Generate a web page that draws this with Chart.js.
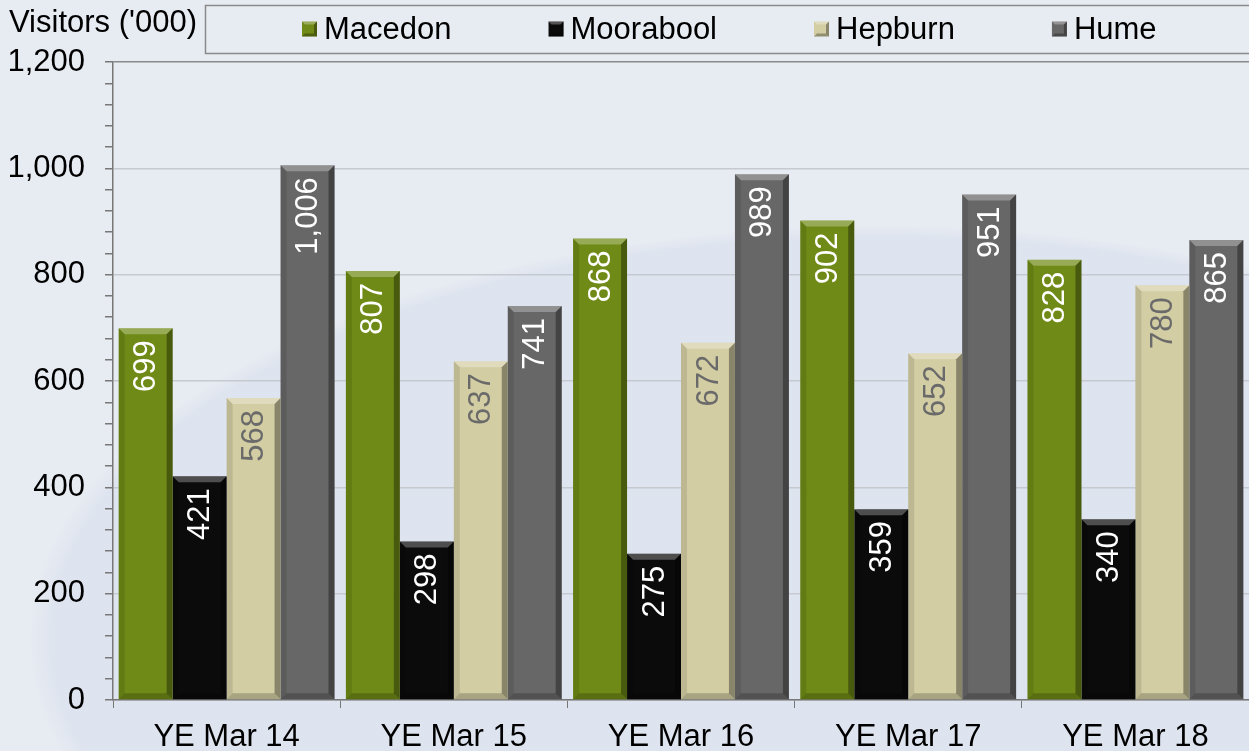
<!DOCTYPE html>
<html>
<head>
<meta charset="utf-8">
<script src="https://cdn.jsdelivr.net/npm/chart.js@4.4.1/dist/chart.umd.min.js"></script>
<style>
  html, body { margin: 0; padding: 0; }
  body {
    width: 1249px; height: 751px; overflow: hidden;
    background:
      radial-gradient(ellipse 1150px 560px at 880px 640px, rgba(222,228,239,0.95) 0%, rgba(222,228,239,0.95) 72%, rgba(236,240,246,0) 74%),
      #e7ebf2;
  }
  #wrap { position: relative; width: 1249px; height: 751px; }
</style>
</head>
<body>
<div id="wrap"><canvas id="chart"></canvas></div>
<script>
// data
const categories = ["YE Mar 14", "YE Mar 15", "YE Mar 16", "YE Mar 17", "YE Mar 18"];
const macedon = [699, 807, 868, 902, 828];
const moorabool = [421, 298, 275, 359, 340];
const hepburn = [568, 637, 672, 652, 780];
const hume = [1006, 741, 989, 951, 865];
const yTicks = [0, 200, 400, 600, 800, 1000, 1200];

const FONT = "'Liberation Sans', Arial, sans-serif";
const labelColors = ["#ffffff", "#ffffff", "#6a6a6a", "#ffffff"];

function poly(ctx, pts, fill) {
  ctx.beginPath();
  ctx.moveTo(pts[0][0], pts[0][1]);
  pts.slice(1).forEach((q) => ctx.lineTo(q[0], q[1]));
  ctx.closePath();
  ctx.fillStyle = fill;
  ctx.fill();
}

// bevelled look on every bar
const bevelPlugin = {
  id: "bevel",
  afterDatasetsDraw(chart) {
    const ctx = chart.ctx;
    chart.data.datasets.forEach((ds, i) => {
      chart.getDatasetMeta(i).data.forEach((bar) => {
        const p = bar.getProps(["x", "y", "base", "width"], true);
        const l = p.x - p.width / 2, r = p.x + p.width / 2;
        const t = Math.min(p.y, p.base), b = Math.max(p.y, p.base);
        const s = 6;
        ctx.save();
        poly(ctx, [[l, t], [r, t], [r - s, t + s], [l + s, t + s]], "rgba(255,255,255,0.28)");
        poly(ctx, [[l, t], [l + s, t + s], [l + s, b - s], [l, b]], "rgba(0,0,0,0.1)");
        poly(ctx, [[r, t], [r, b], [r - s, b - s], [r - s, t + s]], "rgba(0,0,0,0.35)");
        poly(ctx, [[l, b], [l + s, b - s], [r - s, b - s], [r, b]], "rgba(0,0,0,0.2)");
        ctx.restore();
      });
    });
  },
};

// rotated value labels near the top of each bar
const valueLabels = {
  id: "valueLabels",
  afterDatasetsDraw(chart) {
    const ctx = chart.ctx;
    chart.data.datasets.forEach((ds, i) => {
      chart.getDatasetMeta(i).data.forEach((bar, j) => {
        const p = bar.getProps(["x", "y"], true);
        ctx.save();
        ctx.translate(p.x, p.y + 12);
        ctx.rotate(-Math.PI / 2);
        ctx.font = "31px " + FONT;
        ctx.fillStyle = labelColors[i];
        ctx.textAlign = "right";
        ctx.textBaseline = "middle";
        ctx.fillText(ds.data[j].toLocaleString("en-US"), 0, 1);
        ctx.restore();
      });
    });
  },
};

// axis title and boxed legend at the top
const topBits = {
  id: "topBits",
  afterDraw(chart) {
    const ctx = chart.ctx;
    ctx.save();
    ctx.font = "31px " + FONT;
    ctx.fillStyle = "#000";
    ctx.textBaseline = "middle";
    ctx.textAlign = "left";
    ctx.fillText("Visitors ('000)", 9, 23);

    const boxLeft = 205, boxTop = 5, boxBottom = 53;
    ctx.fillStyle = "rgba(232,236,244,0.6)";
    ctx.fillRect(boxLeft, boxTop, chart.width - boxLeft + 5, boxBottom - boxTop);
    ctx.strokeStyle = "#8a8a8a";
    ctx.lineWidth = 1.5;
    ctx.strokeRect(boxLeft + 0.5, boxTop + 0.5, chart.width - boxLeft + 5, boxBottom - boxTop);

    let x = boxLeft + 97;
    const cy = 29;
    chart.data.datasets.forEach((ds) => {
      const sz = 15, s = 3;
      const l = x, t = cy - sz / 2, r = x + sz, b = t + sz;
      ctx.fillStyle = ds.backgroundColor;
      ctx.fillRect(l, t, sz, sz);
      poly(ctx, [[l, t], [r, t], [r - s, t + s], [l + s, t + s]], "rgba(255,255,255,0.3)");
      poly(ctx, [[r, t], [r, b], [r - s, b - s], [r - s, t + s]], "rgba(0,0,0,0.35)");
      poly(ctx, [[l, b], [l + s, b - s], [r - s, b - s], [r, b]], "rgba(0,0,0,0.3)");
      ctx.fillStyle = "#000";
      ctx.fillText(ds.label, x + sz + 7, cy + 1);
      x += sz + 7 + ctx.measureText(ds.label).width + 97;
    });
    ctx.restore();
  },
};

const ctx = document.getElementById("chart").getContext("2d");
new Chart(ctx, {
  type: "bar",
  data: {
    labels: categories,
    datasets: [
      { label: "Macedon", data: macedon, backgroundColor: "#6f8a16" },
      { label: "Moorabool", data: moorabool, backgroundColor: "#0b0b0b" },
      { label: "Hepburn", data: hepburn, backgroundColor: "#d3cda3" },
      { label: "Hume", data: hume, backgroundColor: "#676767" },
    ],
  },
  options: {
    responsive: true,
    maintainAspectRatio: false,
    animation: false,
    layout: { padding: { top: 62, left: 10, right: 0, bottom: 0 } },
    datasets: { bar: { categoryPercentage: 0.95, barPercentage: 1 } },
    plugins: {
      legend: { display: false },
      tooltip: { enabled: false },
    },
    scales: {
      x: {
        afterFit: (scale) => { scale.height = 51; },
        grid: {
          offset: true,
          drawOnChartArea: false,
          drawTicks: true,
          tickLength: 8,
          tickColor: "#777",
        },
        border: { color: "#777", width: 1.5 },
        ticks: {
          color: "#000",
          padding: 14,
          font: { family: FONT, size: 31, lineHeight: 1 },
        },
      },
      y: {
        min: 0,
        max: 1200,
        afterFit: (scale) => { scale.width = 103; },
        grid: {
          color: (c) => {
            const v = c.tick ? c.tick.value : 0;
            if (v === 1200) return "#8a8a8a";
            return yTicks.includes(v) ? "#c6c9cf" : "rgba(0,0,0,0)";
          },
          tickColor: "#777",
          tickLength: 8,
          lineWidth: 1.5,
        },
        border: { color: "#777", width: 1.5 },
        ticks: {
          stepSize: 40,
          autoSkip: false,
          color: "#000",
          padding: 20,
          font: { family: FONT, size: 31, lineHeight: 1 },
          callback: (v) => (yTicks.includes(v) ? v.toLocaleString("en-US") : ""),
        },
      },
    },
  },
  plugins: [bevelPlugin, valueLabels, topBits],
});
</script>
</body>
</html>
